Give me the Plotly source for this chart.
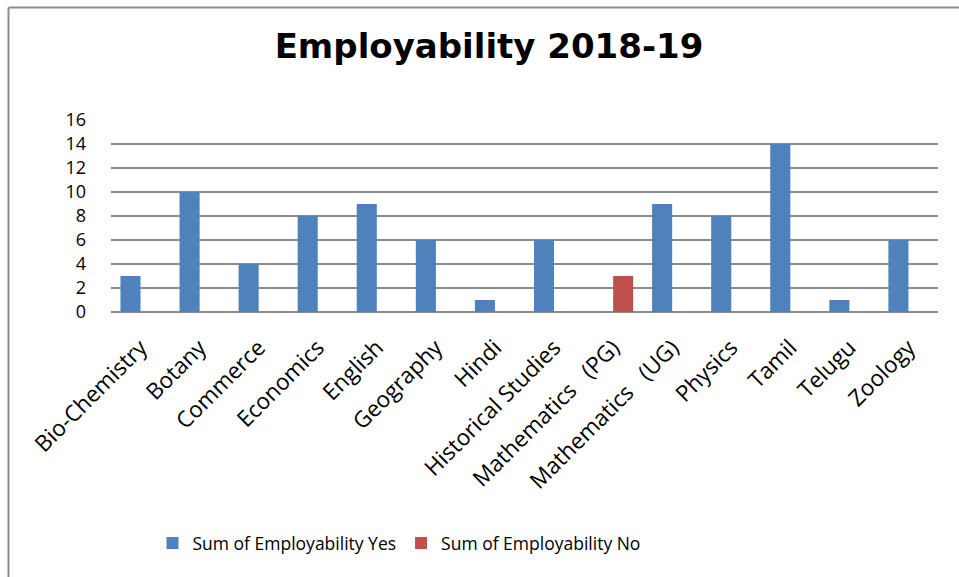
import plotly.graph_objects as go

categories = ["Bio-Chemistry", "Botany", "Commerce", "Economics", "English",
              "Geography", "Hindi", "Historical Studies",
              "Mathematics\u00a0\u00a0\u00a0(PG)", "Mathematics\u00a0\u00a0\u00a0(UG)",
              "Physics", "Tamil", "Telugu", "Zoology"]
yes_values = [3, 10, 4, 8, 9, 6, 1, 6, None, 9, 8, 14, 1, 6]
no_values = [None, None, None, None, None, None, None, None, 3, None, None, None, None, None]
y_ticks = [0, 2, 4, 6, 8, 10, 12, 14, 16]

FONT = "Open Sans"

fig = go.Figure()
fig.add_trace(go.Bar(x=categories, y=yes_values, name="Sum of Employability Yes",
                     marker=dict(color="#4F81BD", line=dict(width=0))))
fig.add_trace(go.Bar(x=categories, y=no_values, name="Sum of Employability No",
                     marker=dict(color="#C0504D", line=dict(width=0))))

L, R, T, B = 111, 21, 120, 265
W, H = 959, 577
pw = W - L - R
ph = H - T - B

def px_x(v):
    return (v - L) / pw

def px_y(v):
    return (H - B - v) / ph

fig.update_layout(
    width=W, height=H,
    margin=dict(l=L, r=R, t=T, b=B, autoexpand=False),
    paper_bgcolor="white", plot_bgcolor="white",
    barmode="group", bargap=0.32, bargroupgap=0,
    font=dict(family=FONT, color="black"),
    title=dict(text="<b>Employability 2018-19</b>", x=489 / W, xanchor="center",
               y=1 - 46 / H, yanchor="middle", xref="container",
               font=dict(family="DejaVu Sans", size=34, color="black")),
    showlegend=True,
    legend=dict(orientation="h", x=399 / W, xanchor="center", xref="container",
                y=1 - 543 / H, yanchor="middle", yref="container",
                font=dict(family=FONT, size=17.5, color="black"),
                itemwidth=30, traceorder="normal"),
    xaxis=dict(type="category", tickangle=-45, showgrid=False,
               showline=False, ticks="", ticklabelstandoff=17,
               tickfont=dict(family=FONT, size=22.5, color="black"),
               range=[-0.5, len(categories) - 0.5]),
    yaxis=dict(range=[0, 16], tickvals=y_ticks, showgrid=True,
               gridcolor="#8C8C8C", gridwidth=2, zeroline=True,
               zerolinecolor="#8C8C8C", zerolinewidth=2, showline=False,
               ticks="", ticklabelstandoff=24,
               tickfont=dict(family=FONT, size=18, color="black")),
    shapes=[
        dict(type="line", xref="paper", yref="paper",
             x0=px_x(8.5), x1=px_x(8.5), y0=px_y(7.5), y1=px_y(H + 5),
             line=dict(color="#8C8C8C", width=2)),
        dict(type="line", xref="paper", yref="paper",
             x0=px_x(8.5), x1=px_x(W + 5), y0=px_y(7.5), y1=px_y(7.5),
             line=dict(color="#8C8C8C", width=2)),
    ],
)

fig.write_html("out.html", config={"displayModeBar": False},
               post_script="document.body.style.margin='0';document.body.style.overflow='hidden';")
